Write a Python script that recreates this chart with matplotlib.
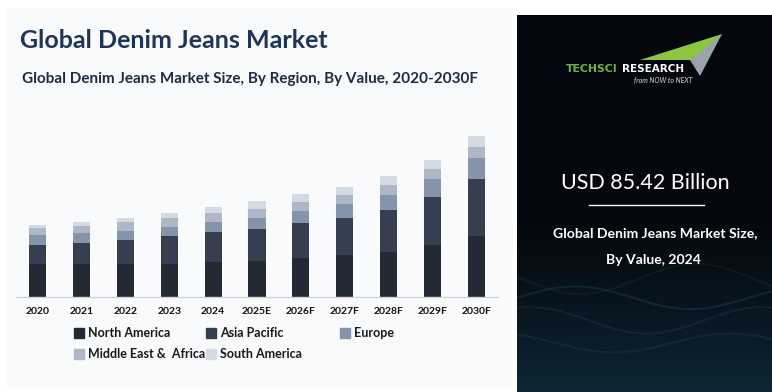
import numpy as np
import matplotlib
matplotlib.use("Agg")
import matplotlib.pyplot as plt
from matplotlib.patches import Rectangle, Polygon
from matplotlib.lines import Line2D

plt.rcParams['font.family'] = ['Lato', 'DejaVu Sans']

years = ["2020", "2021", "2022", "2023", "2024", "2025E", "2026F", "2027F", "2028F", "2029F", "2030F"]
north_america = [31.6, 31.6, 31.6, 31.6, 33.2, 34.2, 37.0, 39.9, 42.7, 49.3, 57.9]
asia_pacific = [17.4, 19.6, 22.1, 26.3, 28.5, 30.4, 33.2, 35.1, 39.9, 45.6, 54.1]
europe = [9.5, 9.5, 8.8, 8.5, 9.2, 10.4, 11.4, 13.3, 14.2, 17.1, 19.9]
middle_east_africa = [6.9, 6.6, 8.5, 8.5, 8.8, 8.5, 8.5, 8.5, 9.5, 9.5, 10.4]
south_america = [2.6, 3.8, 3.8, 4.5, 5.7, 7.6, 7.3, 7.6, 8.5, 8.5, 10.4]

series_names = ["North America", "Asia Pacific", "Europe", "Middle East &  Africa", "South America"]
series_values = [north_america, asia_pacific, europe, middle_east_africa, south_america]
colors = ["#232a35", "#353f50", "#8494aa", "#aeb7c5", "#d4dae3"]

W, H = 772, 392
fig = plt.figure(figsize=(W / 100, H / 100), dpi=100, facecolor="white")

def fx(px):
    return px / W

def fy(py):
    return 1 - py / H

# left light panel
bg = Rectangle((fx(7), fy(388)), fx(505), 380 / H, transform=fig.transFigure,
               facecolor="#f9fafb", edgecolor="none", zorder=-10)
fig.patches.append(bg)

# main chart axes
ax = fig.add_axes([fx(16), fy(297), fx(482), (297 - 130) / H], zorder=2)
ax.set_facecolor("none")
x = np.arange(len(years))
bottom = np.zeros(len(years))
for name, vals, c in zip(series_names, series_values, colors):
    ax.bar(x, vals, width=0.39, bottom=bottom, color=c, label=name, zorder=2)
    bottom += np.array(vals)
ax.set_xlim(-0.5, 10.5)
ax.set_ylim(0, 167 * 0.949)
ax.set_xticks(x)
ax.set_xticklabels(years, fontsize=7.5, fontweight="bold", color="#111111")
ax.tick_params(axis="x", length=0, pad=7.5)
ax.set_yticks([])
for s in ["top", "right", "left"]:
    ax.spines[s].set_visible(False)
ax.spines["bottom"].set_color("#d0d3d6")
ax.spines["bottom"].set_linewidth(1)

# titles
fig.text(fx(20), fy(41), "Global Denim Jeans Market", fontsize=18, fontweight="bold",
         color="#1f3557", va="center", ha="left")
fig.text(fx(22), fy(79), "Global Denim Jeans Market Size, By Region, By Value, 2020-2030F",
         fontsize=11, fontweight="bold", color="#1f2a44", va="center", ha="left")

# legend (one entry per legend to match the reference layout)
leg_pos = [(73, 333), (205, 333), (339, 333), (73, 354), (205, 354)]
for (px, py), name, c in zip(leg_pos, series_names, colors):
    h = Line2D([], [], marker="s", linestyle="none", markersize=7, color=c)
    lg = fig.legend([h], [name], loc="center left", bbox_to_anchor=(fx(px), fy(py)),
                    frameon=False, handletextpad=0.2, handlelength=1.0, borderpad=0,
                    borderaxespad=0, prop={"size": 9, "weight": "bold"})
    for t in lg.get_texts():
        t.set_color("#1a1a1a")

# right dark panel
pax = fig.add_axes([fx(517), 0, fx(W - 517), fy(15)])
pax.set_xlim(0, 1)
pax.set_ylim(0, 1)
pax.axis("off")
grad = np.linspace(0, 1, 200)[:, None]
top_c = np.array([0x04, 0x07, 0x0d]) / 255
bot_c = np.array([0x0e, 0x27, 0x33]) / 255
wgt = np.clip((0.5 - grad) / 0.5, 0, 1) ** 1.3
img = top_c[None, None, :] * (1 - wgt[..., None]) + bot_c[None, None, :] * wgt[..., None]
img = np.repeat(img, 2, axis=1)
pax.imshow(img, extent=(0, 1, 0, 1), origin="lower", aspect="auto", zorder=0)
# decorative waves
t = np.linspace(0, 1, 200)
for amp, base, ph, a in [(0.03, 0.25, 0.0, 0.22), (0.035, 0.19, 1.2, 0.16),
                         (0.025, 0.13, 2.1, 0.16), (0.04, 0.30, 3.0, 0.12)]:
    pax.plot(t, base + amp * np.sin(2 * np.pi * (t * 1.1) + ph), color="#2f6b73", lw=1.5,
             alpha=a, zorder=1)

# logo
def pp(px, py):
    return ((px - 517) / (W - 517), (392 - py) / (392 - 15))

pax.add_patch(Polygon([pp(640, 60), pp(722, 34), pp(703, 60)], closed=True,
                      facecolor="#8cc63f", edgecolor="none", zorder=3))
pax.add_patch(Polygon([pp(690, 60), pp(722, 34), pp(700, 76)], closed=True,
                      facecolor="#9aa3ad", edgecolor="none", zorder=3))
pax.text(*pp(566, 69), "TECHSCI", color="#6db33f", fontsize=7.8, fontweight="bold",
         family="DejaVu Sans", ha="left", va="center", zorder=4)
pax.text(*pp(622, 69), "RESEARCH", color="white", fontsize=7.5, fontweight="bold",
         family="DejaVu Sans", ha="left", va="center", zorder=4)
pax.text(*pp(692, 80), "from NOW to NEXT", color="#dddddd", fontsize=5, style="italic",
         ha="right", va="center", zorder=4)

pax.text(*pp(645, 183), "USD 85.42 Billion", color="white", fontsize=15.5,
         ha="center", va="center", zorder=4)
pax.plot([pp(589, 205)[0], pp(704, 205)[0]], [pp(589, 205)[1]] * 2, color="white", lw=1, zorder=4)
pax.text(*pp(655, 233), "Global Denim Jeans Market Size,", color="white", fontsize=10.1,
         fontweight="bold", ha="center", va="center", zorder=4)
pax.text(*pp(653, 260), "By Value, 2024", color="white", fontsize=10.1,
         fontweight="bold", ha="center", va="center", zorder=4)

fig.savefig("out.png", dpi=100, facecolor="white")
